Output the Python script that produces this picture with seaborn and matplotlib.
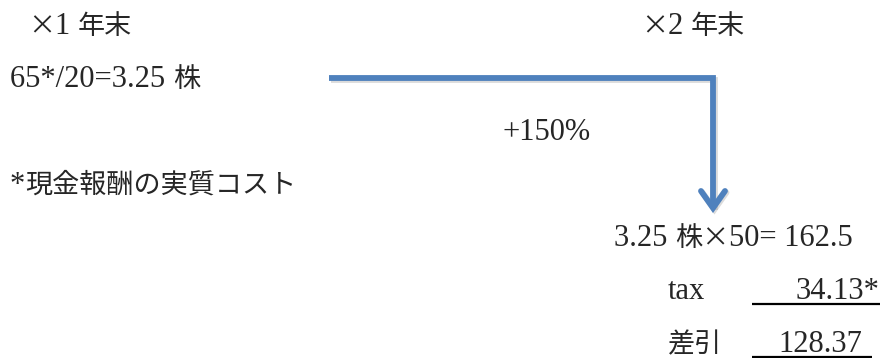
import matplotlib.pyplot as plt
import seaborn as sns

# text content
year_labels = ["×1 年末", "×2 年末"]
calc_start = "65*/20=3.25 株"
growth_label = "+150%"
note_label = "*現金報酬の実質コスト"
calc_end = "3.25 株×50= 162.5"
row_names = ["tax", "差引"]
row_values = ["34.13*", "128.37"]

sns.set_style("white")
plt.rcParams['font.family'] = ['Liberation Serif', 'Noto Sans CJK JP', 'DejaVu Sans']

fig = plt.figure(figsize=(8.8, 3.58), dpi=100)
ax = fig.add_axes([0, 0, 1, 1])
ax.set_xlim(0, 880)
ax.set_ylim(358, 0)
ax.axis('off')

latin = dict(family=['Liberation Serif', 'DejaVu Serif'], fontsize=22)
cjk = dict(family=['Noto Sans CJK JP'], fontsize=19.5)
renderer = fig.canvas.get_renderer()


def is_cjk(c):
    return ord(c) > 0x2E80 or c == '×'


def put(x, y, s, ha='left'):
    # split into latin / cjk runs and lay them out on one baseline
    runs = []
    for c in s:
        kind = is_cjk(c)
        if runs and runs[-1][0] == kind:
            runs[-1][1] += c
        else:
            runs.append([kind, c])
    texts = []
    for kind, seg in runs:
        t = ax.text(0, y, seg, va='baseline', ha='left', **(cjk if kind else latin))
        texts.append(t)
    widths = [t.get_window_extent(renderer).width for t in texts]
    if ha == 'right':
        x -= sum(widths)
    for t, w in zip(texts, widths):
        t.set_x(x)
        x += w


put(28, 34, year_labels[0])
put(641, 34, year_labels[1])
put(10, 87, calc_start)
put(502, 140, growth_label)
put(10, 193, note_label)
put(614, 246, calc_end)

line_right = [880, 872]
value_right = [879, 862]
for i, (name, val) in enumerate(zip(row_names, row_values)):
    y = 299 + i * 53
    put(668, y, name)
    put(value_right[i], y, val, ha='right')
    ax.plot([752, line_right[i]], [y + 5, y + 5], color='black', lw=1.6,
            solid_capstyle='butt')

# elbow arrow with soft shadow
blue = '#4F81BD'
path_x = [329, 713, 713]
path_y = [78, 78, 208]
head_x = [701, 713, 725]
head_y = [191, 208, 191]
for dx, col, a, z in [(1.5, '#999999', 0.35, 1), (0, blue, 1, 2)]:
    ax.plot([p + dx for p in path_x], [p + dx for p in path_y], color=col, alpha=a,
            lw=4.2, solid_joinstyle='miter', solid_capstyle='butt', zorder=z)
    ax.plot([p + dx for p in head_x], [p + dx for p in head_y], color=col, alpha=a,
            lw=4.2, solid_joinstyle='miter', solid_capstyle='round', zorder=z)

fig.savefig('out.png', dpi=100)
